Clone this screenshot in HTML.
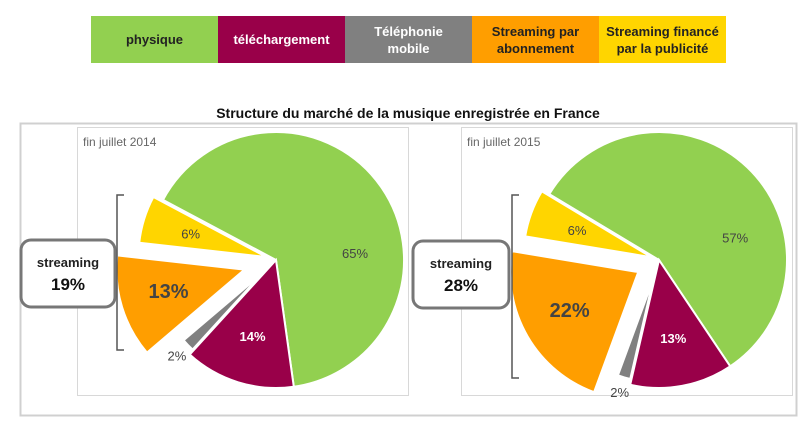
<!DOCTYPE html>
<html><head><meta charset="utf-8"><style>
body{margin:0;width:808px;height:428px;background:#fff;overflow:hidden;font-family:"Liberation Sans",sans-serif}
.lg{position:absolute;top:16px;height:47px;width:127px;display:flex;align-items:center;justify-content:center;text-align:center;font-weight:bold;font-size:13px;line-height:17px}
</style></head><body>
<div>
<div class="lg" style="left:91px;background:#92d050;color:#222">physique</div>
<div class="lg" style="left:218px;background:#990049;color:#fff">téléchargement</div>
<div class="lg" style="left:345px;background:#808080;color:#fff">Téléphonie<br>mobile</div>
<div class="lg" style="left:472px;background:#ff9e00;color:#222">Streaming par<br>abonnement</div>
<div class="lg" style="left:599px;background:#ffd500;color:#222">Streaming financé<br>par la publicité</div>
</div>
<svg id="svg" width="808" height="428" style="position:absolute;left:0;top:0">
<text x="408" y="118" text-anchor="middle" font-weight="bold" font-size="14" fill="#111">Structure du marché de la musique enregistrée en France</text>
<rect x="20.5" y="123.5" width="776" height="292" fill="none" stroke="#d0d0d0" stroke-width="2"/>
<rect x="77.5" y="127.5" width="331" height="268" fill="none" stroke="#d8d8d8"/>
<rect x="461.5" y="127.5" width="331" height="268" fill="none" stroke="#d8d8d8"/>
<text x="83" y="146" font-size="12" fill="#666">fin juillet 2014</text>
<text x="467" y="146" font-size="12" fill="#666">fin juillet 2015</text>
<g id="pies"></g>
<path d="M124 195 H117 V350 H124" fill="none" stroke="#555" stroke-width="1.5"/>
<path d="M519 195 H512 V378 H519" fill="none" stroke="#555" stroke-width="1.5"/>
<g>
<rect x="21" y="240" width="94" height="67" rx="10" fill="#fff" stroke="#777" stroke-width="3"/>
<text x="68" y="267" text-anchor="middle" font-weight="bold" font-size="13" fill="#222">streaming</text>
<text x="68" y="290" text-anchor="middle" font-weight="bold" font-size="17" fill="#111">19%</text>
</g>
<g>
<rect x="413" y="241" width="96" height="67" rx="10" fill="#fff" stroke="#777" stroke-width="3"/>
<text x="461" y="268" text-anchor="middle" font-weight="bold" font-size="13" fill="#222">streaming</text>
<text x="461" y="291" text-anchor="middle" font-weight="bold" font-size="17" fill="#111">28%</text>
</g>
</svg>
<script>
const categories=["physique","telechargement","telephonie","abonnement","publicite"];
const colors=["#92d050","#990049","#808080","#ff9e00","#ffd500"];
const values2014=[65,14,2,13,6];
const values2015=[57,13,2,22,6];
const labelColors=["#444","#fff","#444","#444","#444"];
const NS="http://www.w3.org/2000/svg";
const g=document.getElementById("pies");
function pie(vals,cx,cy,r,startDeg,explode,year){
  let a=startDeg;
  const total=vals.reduce((s,v)=>s+v,0);
  vals.forEach((v,i)=>{
    const sweep=v/total*360, mid=a+sweep/2, mr=mid*Math.PI/180;
    const ox=Math.sin(mr)*explode[i], oy=-Math.cos(mr)*explode[i];
    const c=cx+ox, d=cy+oy;
    const rr=i==2?r*0.8:r;
    const p=t=>[c+rr*Math.sin(t*Math.PI/180), d-rr*Math.cos(t*Math.PI/180)];
    const [x1,y1]=p(a),[x2,y2]=p(a+sweep);
    const path=document.createElementNS(NS,"path");
    path.setAttribute("d",`M${c} ${d} L${x1} ${y1} A${rr} ${rr} 0 ${sweep>180?1:0} 1 ${x2} ${y2} Z`);
    path.setAttribute("fill",colors[i]);path.setAttribute("stroke","#fff");path.setAttribute("stroke-width","2");
    
    
    g.appendChild(path);
    const small=v<4, lf=small?0.92:0.62;
    const la=(i==0?mid+30:mid)*Math.PI/180;
    const t=document.createElementNS(NS,"text");
    t.setAttribute("x",c+Math.sin(la)*r*lf);t.setAttribute("y",d-Math.cos(la)*r*lf+5);
    t.setAttribute("text-anchor","middle");
    t.setAttribute("font-size",i==3?"20":"13");
    if(i==3||i==1)t.setAttribute("font-weight","bold");
    t.setAttribute("fill",small?"#444":labelColors[i]);
    t.textContent=v+"%";
    
    
    g.appendChild(t);
    a+=sweep;
  });
}
pie(values2014,276,260,128,298,[0,0,20,33,10],"2014");
pie(values2015,659,260,128,301,[0,0,20,24,8],"2015");
</script>
</body></html>
